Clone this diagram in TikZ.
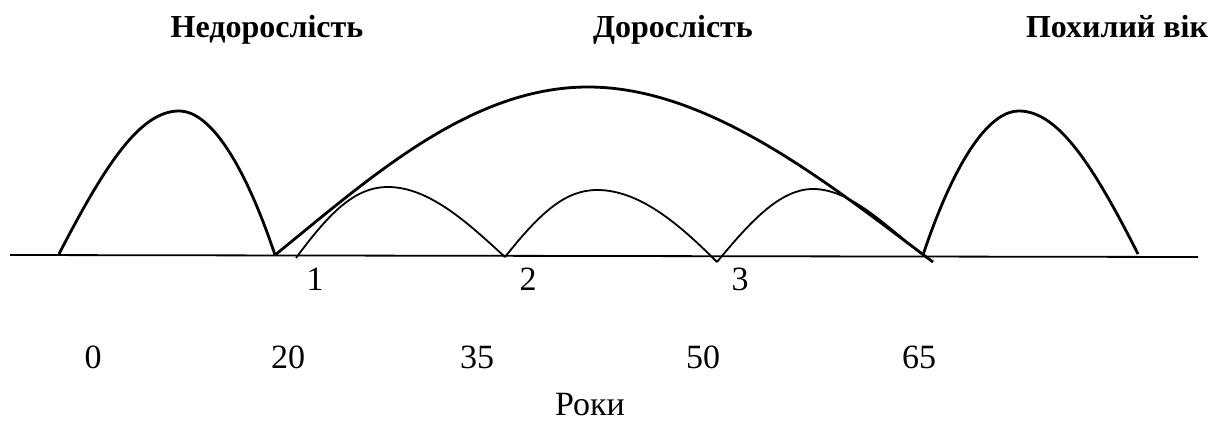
\documentclass[tikz,border=0pt]{standalone}
\usepackage{fontspec}
\setmainfont{Liberation Serif}
\begin{document}
\begin{tikzpicture}[x=0.5pt,y=-0.5pt,
  title/.style={font=\fontsize{16}{19}\selectfont\bfseries, inner sep=0pt, anchor=base},
  lbl/.style={font=\fontsize{17}{20}\selectfont, inner sep=0pt, anchor=base},
  big/.style={line width=1.4pt, line join=round},
  small/.style={line width=0.9pt, line join=round},
  axis/.style={line width=0.9pt}]
\useasboundingbox (0,0) rectangle (1211,423);
% titles
\node[title] (t1) at (267,38) {Недорослість};
\node[title] (t2) at (673,38) {Дорослість};
\node[title] (t3) at (1117,38) {Похилий вік};
% axis
\coordinate (axL) at (10,255);
\coordinate (axR) at (1198,257);
\draw[axis] (axL) -- (axR);
% left big hump
\draw[big] (59,254) .. controls (105,165) and (140,111) .. (179,111)
  .. controls (215,111) and (250,180) .. (275,255);
% right big hump
\draw[big] (923,255) .. controls (948,180) and (983,111) .. (1019,111)
  .. controls (1058,111) and (1093,165) .. (1138,254);
% large arc
\draw[big] (275,255) .. controls (370,178) and (470,87) .. (588,87)
  .. controls (710,87) and (830,185) .. (933,262);
% small humps
\draw[small] (296,258) .. controls (330,212) and (355,187) .. (388,187)
  .. controls (430,187) and (470,225) .. (505,257);
\draw[small] (505,257) .. controls (540,213) and (565,190) .. (597,190)
  .. controls (640,190) and (680,225) .. (717,262);
\draw[small] (717,262) .. controls (750,222) and (780,189) .. (813,189)
  .. controls (850,189) and (885,225) .. (923,255);
% segment labels
\node[lbl] (n1) at (315,290) {1};
\node[lbl] (n2) at (528,290) {2};
\node[lbl] (n3) at (740,290) {3};
% ages
\node[lbl] (a0) at (93,368) {0};
\node[lbl] (a20) at (288,368) {20};
\node[lbl] (a35) at (477,368) {35};
\node[lbl] (a50) at (703,368) {50};
\node[lbl] (a65) at (919,368) {65};
\node[lbl] (roky) at (590,415) {Роки};
\end{tikzpicture}
\end{document}
